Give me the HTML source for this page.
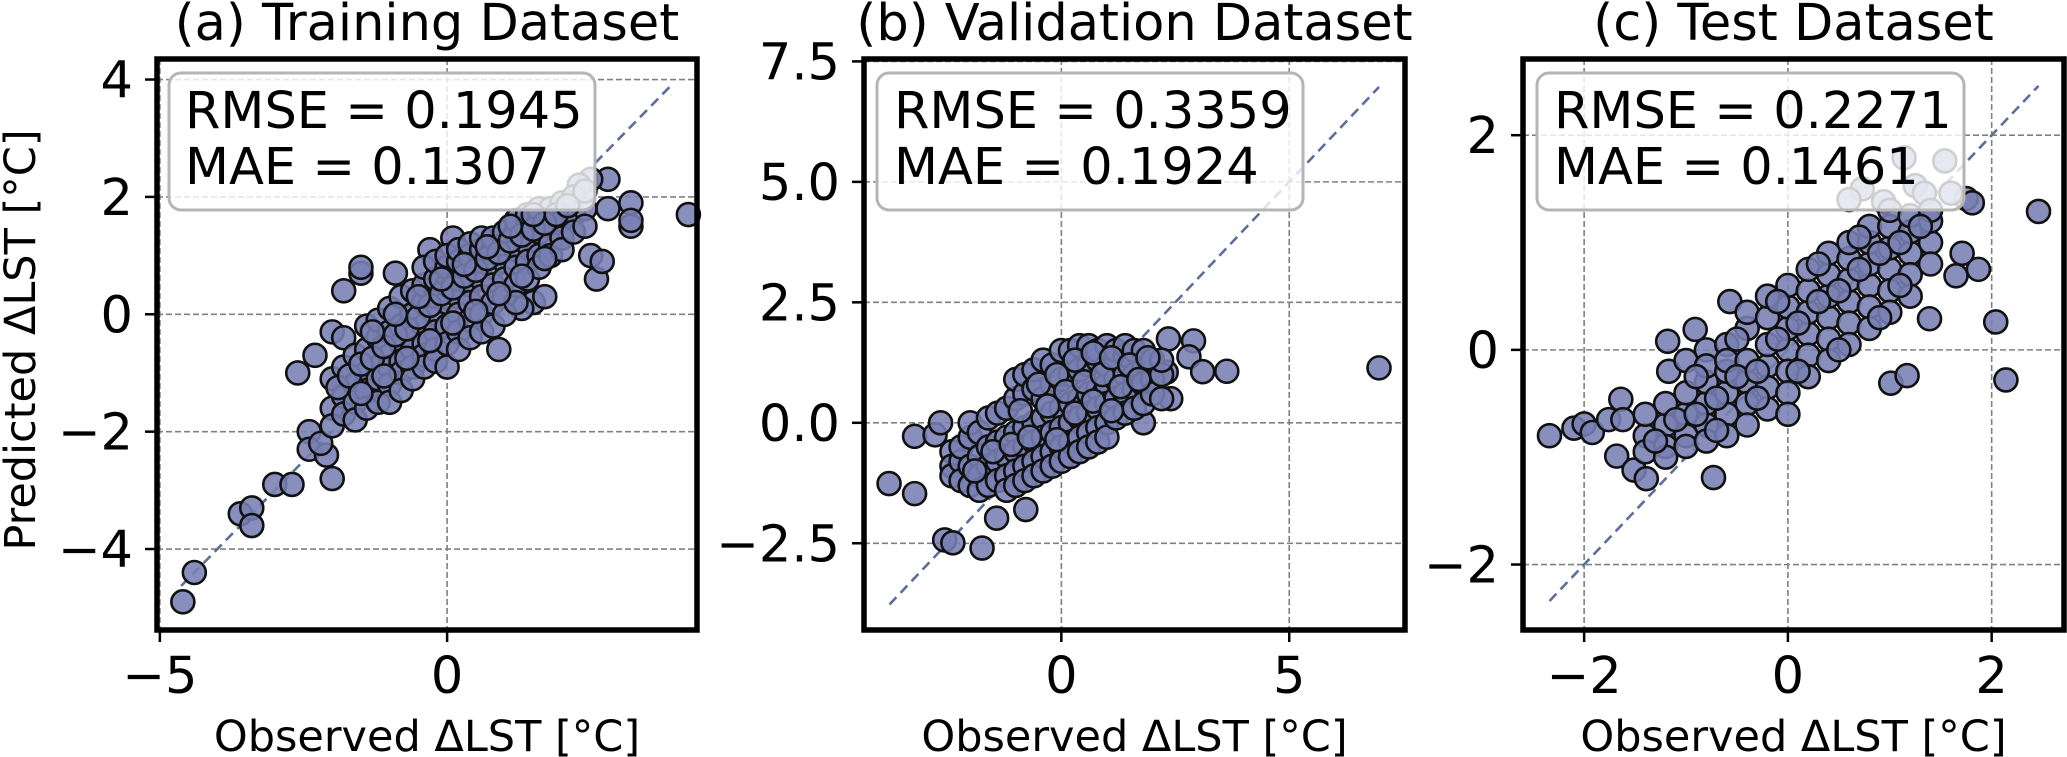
<!DOCTYPE html>
<html><head><meta charset="utf-8"><style>
html,body{margin:0;padding:0;background:#fff;}
svg{display:block;font-family:"DejaVu Sans","Liberation Sans",sans-serif;}
</style></head><body>
<svg id="chart" width="2067" height="757" viewBox="0 0 2067 757" xmlns="http://www.w3.org/2000/svg"></svg>
<script>
// ---------- data ----------
const panelTitles = ["(a) Training Dataset", "(b) Validation Dataset", "(c) Test Dataset"];
const rmseValues = ["0.1945", "0.3359", "0.2271"];
const maeValues = ["0.1307", "0.1924", "0.1461"];
const trainXTicks = [-5, 0];
const trainYTicks = [-4, -2, 0, 2, 4];
const valXTicks = [0, 5];
const valYTicks = [-2.5, 0, 2.5, 5, 7.5];
const testXTicks = [-2, 0, 2];
const testYTicks = [-2, 0, 2];
const trainDomainX = [-5.05, 4.35], trainDomainY = [-5.38, 4.35];
const valDomainX = [-4.33, 7.54], valDomainY = [-4.3, 7.55];
const testDomainX = [-2.6, 2.71], testDomainY = [-2.61, 2.71];
const trainLine = [-4.63, 3.9];
const valLine = [-3.77, 6.97];
const testLine = [-2.34, 2.46];

const trainPoints = [
[-4.6,-4.9],[-4.4,-4.4],[-3.6,-3.4],[-3.4,-3.3],[-3.4,-3.6],[-3.0,-2.9],[-2.7,-2.9],[-2.4,-2.0],[-2.4,-2.3],[-2.0,-2.8],[-2.1,-2.4],[-2.2,-2.2],
[-1.8,0.4],[-1.5,0.7],[-1.5,0.8],[-0.9,0.7],[-2.6,-1.0],[-2.3,-0.7],[-2.0,-0.3],[-0.3,1.1],[0.1,1.3],[3.2,1.9],[3.2,1.5],[3.2,1.6],[4.2,1.7],
[2.8,2.3],[2.5,2.3],[2.8,1.8],[2.5,1.0],[2.6,0.6],[2.7,0.9],[1.5,0.2],[1.3,0.1],[0.9,-0.6],[1.7,0.3],[2.3,2.2],[2.0,1.8],
[-2.0,-1.6],[-2.0,-1.1],[-2.0,-1.9],
[-1.8,-1.4],[-1.8,-0.9],[-1.8,-1.7],[-1.8,-0.4],
[-1.6,-1.2],[-1.6,-1.5],[-1.6,-0.7],[-1.6,-1.8],
[-1.4,-1.0],[-1.4,-1.3],[-1.4,-0.6],[-1.4,-1.6],[-1.4,-0.2],
[-1.2,-0.9],[-1.2,-1.1],[-1.2,-0.4],[-1.2,-1.5],[-1.2,-0.1],
[-1.0,-0.7],[-1.0,-0.9],[-1.0,-0.3],[-1.0,-1.2],[-1.0,0.1],[-1.0,-1.5],
[-0.8,-0.5],[-0.8,-0.8],[-0.8,-0.2],[-0.8,-1.0],[-0.8,0.3],[-0.8,-1.3],
[-0.6,-0.4],[-0.6,-0.6],[-0.6,0.0],[-0.6,-0.9],[-0.6,0.4],[-0.6,-1.1],
[-0.4,-0.2],[-0.4,-0.5],[-0.4,0.2],[-0.4,-0.7],[-0.4,0.5],[-0.4,-0.9],[-0.4,0.8],
[-0.2,0.0],[-0.2,-0.3],[-0.2,0.3],[-0.2,-0.6],[-0.2,0.6],[-0.2,-0.8],[-0.2,0.9],
[0.0,0.2],[0.0,-0.2],[0.0,0.5],[0.0,-0.5],[0.0,0.8],[0.0,-0.9],[0.0,1.0],
[0.2,0.3],[0.2,0.0],[0.2,0.6],[0.2,-0.3],[0.2,0.9],[0.2,-0.6],[0.2,1.1],
[0.4,0.5],[0.4,0.2],[0.4,0.8],[0.4,-0.1],[0.4,1.0],[0.4,-0.4],[0.4,1.2],
[0.6,0.6],[0.6,0.3],[0.6,0.9],[0.6,0.0],[0.6,1.1],[0.6,-0.3],[0.6,1.3],
[0.8,0.8],[0.8,0.5],[0.8,1.1],[0.8,0.2],[0.8,1.3],[0.8,-0.2],
[1.0,0.9],[1.0,0.6],[1.0,1.2],[1.0,0.3],[1.0,1.4],[1.0,0.0],
[1.2,1.1],[1.2,0.8],[1.2,1.4],[1.2,0.5],[1.2,1.6],[1.2,0.2],
[1.4,1.2],[1.4,0.9],[1.4,1.5],[1.4,0.6],[1.4,1.7],
[1.6,1.4],[1.6,1.0],[1.6,1.6],[1.6,0.8],[1.6,1.8],
[1.8,1.5],[1.8,1.2],[1.8,1.8],[1.8,1.0],
[2.0,1.6],[2.0,1.3],[2.0,1.9],[2.0,1.1],
[2.2,1.7],[2.2,1.4],[2.2,2.0],
[2.4,1.8],[2.4,1.5],[2.4,2.1],
[-1.9,-1.25],[-1.7,-1.05],[-1.5,-0.85],[-1.3,-0.75],[-1.1,-0.55],[-0.9,-0.35],[-0.7,-0.25],[-0.5,-0.05],[-0.3,0.15],[-0.1,0.35],
[0.1,0.45],[0.3,0.65],[0.5,0.75],[0.7,0.95],[0.9,1.05],[1.1,1.25],[1.3,1.35],[1.5,1.45],[1.7,1.55],[1.9,1.7],[2.1,1.85],
[-1.5,-1.35],[-1.1,-1.05],[-0.7,-0.75],[-0.3,-0.45],[0.1,-0.15],[0.5,0.05],[0.9,0.35],[1.3,0.65],[1.7,0.95],
[-1.3,-0.3],[-0.9,0.0],[-0.5,0.3],[-0.1,0.6],[0.3,0.85],[0.7,1.15],[1.1,1.5],[1.5,1.7]
];

const valPoints = [
[-3.78,-1.26],[-3.22,-1.47],[-3.22,-0.28],[-2.77,-0.25],[-2.65,0.0],[-2.56,-2.43],[-2.38,-2.49],[-1.74,-2.6],[-1.42,-1.98],[-0.78,-1.8],
[3.63,1.07],[6.97,1.14],[2.35,1.74],[2.9,1.7],[2.8,1.37],[3.1,1.06],[1.8,0.0],[2.4,0.5],[2.3,1.05],
[-2.4,-0.6],[-2.4,-0.9],[-2.4,-1.1],
[-2.2,-0.8],[-2.2,-1.2],[-2.2,-0.5],
[-2.0,-0.9],[-2.0,-1.3],[-2.0,-0.3],[-2.0,0.0],
[-1.8,-0.7],[-1.8,-1.1],[-1.8,-1.4],[-1.8,-0.2],
[-1.6,-0.5],[-1.6,-0.9],[-1.6,-1.3],[-1.6,0.1],
[-1.4,-0.4],[-1.4,-0.8],[-1.4,-1.2],[-1.4,0.2],
[-1.2,-0.3],[-1.2,-0.7],[-1.2,-1.1],[-1.2,0.3],[-1.2,-1.4],
[-1.0,-0.2],[-1.0,-0.6],[-1.0,-1.0],[-1.0,0.5],[-1.0,0.9],[-1.0,-1.3],
[-0.8,-0.1],[-0.8,-0.5],[-0.8,-0.9],[-0.8,0.6],[-0.8,1.0],[-0.8,-1.2],
[-0.6,0.0],[-0.6,-0.4],[-0.6,-0.8],[-0.6,0.7],[-0.6,1.1],[-0.6,-1.1],
[-0.4,0.1],[-0.4,-0.3],[-0.4,-0.7],[-0.4,0.5],[-0.4,1.3],[-0.4,-1.0],
[-0.2,0.2],[-0.2,-0.2],[-0.2,-0.6],[-0.2,0.8],[-0.2,1.2],[-0.2,-0.9],
[0.0,0.3],[0.0,-0.1],[0.0,-0.5],[0.0,0.9],[0.0,1.5],[0.0,-0.8],
[0.2,0.4],[0.2,0.0],[0.2,-0.4],[0.2,1.0],[0.2,1.5],[0.2,-0.7],
[0.4,0.5],[0.4,0.1],[0.4,-0.3],[0.4,1.1],[0.4,1.6],[0.4,-0.6],
[0.6,0.6],[0.6,0.2],[0.6,-0.2],[0.6,1.2],[0.6,1.6],[0.6,-0.5],
[0.8,0.7],[0.8,0.3],[0.8,-0.1],[0.8,1.3],[0.8,1.5],[0.8,-0.4],
[1.0,0.8],[1.0,0.4],[1.0,0.0],[1.0,1.2],[1.0,1.6],[1.0,-0.3],
[1.2,0.9],[1.2,0.5],[1.2,0.1],[1.2,1.3],[1.2,1.5],
[1.4,1.0],[1.4,0.6],[1.4,0.2],[1.4,1.4],[1.4,1.6],
[1.6,1.0],[1.6,0.7],[1.6,0.3],[1.6,1.5],
[1.8,1.1],[1.8,0.8],[1.8,0.4],[1.8,1.5],
[2.0,1.2],[2.0,0.9],[2.0,0.6],[2.0,1.3],
[2.2,1.0],[2.2,1.3],[2.2,0.5],
[-1.9,-1.0],[-1.5,-0.6],[-1.1,-0.45],[-0.9,0.25],[-0.7,-0.3],[-0.5,0.8],[-0.3,0.35],[-0.1,1.0],[0.1,0.65],[0.3,1.3],
[0.5,0.85],[0.7,1.45],[0.9,1.0],[1.1,1.35],[1.3,0.75],[1.5,1.2],[1.7,0.9],[1.9,1.35],[-0.1,-0.35],[0.3,0.2],[0.7,0.45],[1.1,0.25]
];

const testPoints = [
[-2.34,-0.8],[-2.1,-0.73],[-2.0,-0.69],[-1.92,-0.77],[-1.76,-0.65],[-1.64,-0.46],[-1.62,-0.65],[-1.68,-0.99],[-1.51,-1.12],[-1.39,-1.2],[-0.73,-1.19],
[-1.18,0.08],[-0.91,0.19],[-1.17,-0.2],[-0.57,0.45],[1.14,1.79],[1.54,1.76],[1.75,1.41],[1.81,1.37],[2.46,1.29],[2.04,0.26],[2.14,-0.28],
[1.01,-0.31],[1.17,-0.24],[1.87,0.75],[1.65,0.69],[1.71,0.9],[1.39,0.29],[0.73,1.5],[0.6,1.4],[0.94,1.38],[1.25,1.53],[1.34,1.46],[1.6,1.46],
[-1.4,-0.8],[-1.4,-0.95],[-1.4,-0.6],
[-1.2,-0.7],[-1.2,-0.9],[-1.2,-0.5],[-1.2,-1.0],
[-1.0,-0.6],[-1.0,-0.8],[-1.0,-0.4],[-1.0,-0.9],[-1.0,-0.1],
[-0.8,-0.5],[-0.8,-0.7],[-0.8,-0.3],[-0.8,-0.85],[-0.8,0.0],[-0.8,-0.15],
[-0.6,-0.4],[-0.6,-0.6],[-0.6,-0.2],[-0.6,-0.8],[-0.6,0.05],[-0.6,-0.1],
[-0.4,-0.3],[-0.4,-0.5],[-0.4,-0.1],[-0.4,-0.7],[-0.4,0.2],[-0.4,0.35],
[-0.2,-0.15],[-0.2,-0.35],[-0.2,0.05],[-0.2,-0.55],[-0.2,0.3],[-0.2,0.5],
[0.0,0.0],[0.0,-0.2],[0.0,0.2],[0.0,-0.4],[0.0,0.4],[0.0,0.6],[0.0,-0.6],
[0.2,0.15],[0.2,-0.05],[0.2,0.35],[0.2,-0.25],[0.2,0.55],[0.2,0.75],
[0.4,0.3],[0.4,0.1],[0.4,0.5],[0.4,-0.1],[0.4,0.7],[0.4,0.9],
[0.6,0.45],[0.6,0.25],[0.6,0.65],[0.6,0.05],[0.6,0.85],[0.6,1.0],
[0.8,0.6],[0.8,0.4],[0.8,0.8],[0.8,0.2],[0.8,1.0],[0.8,1.15],
[1.0,0.75],[1.0,0.55],[1.0,0.95],[1.0,0.35],[1.0,1.15],[1.0,1.3],
[1.2,0.9],[1.2,0.7],[1.2,1.1],[1.2,0.5],[1.2,1.25],
[1.4,1.0],[1.4,0.8],[1.4,1.2],[1.4,1.3],
[-1.3,-0.85],[-1.1,-0.65],[-0.9,-0.6],[-0.7,-0.45],[-0.5,-0.25],[-0.3,-0.2],[-0.1,0.1],[0.1,0.25],[0.3,0.45],[0.5,0.55],
[0.7,0.75],[0.9,0.9],[1.1,1.0],[1.3,1.15],[-0.9,-0.25],[-0.5,0.1],[-0.1,0.45],[0.3,0.8],[0.7,1.05],[1.1,0.6],
[-0.7,-0.75],[-0.3,-0.45],[0.1,-0.2],[0.5,0.0],[0.9,0.3]
];

// ---------- layout ----------
const NS = "http://www.w3.org/2000/svg";
const svg = document.getElementById("chart");
const frameTop = 59, frameBottom = 630;
const panels = [
  {left:157, right:697, dx:trainDomainX, dy:trainDomainY, xt:trainXTicks, yt:trainYTicks, pts:trainPoints, line:trainLine, fmt:v=>String(v), key:"train", textX:185, box:[169,595]},
  {left:864, right:1405, dx:valDomainX, dy:valDomainY, xt:valXTicks, yt:valYTicks, pts:valPoints, line:valLine, fmt:v=>v.toFixed(1), key:"validation", textX:894, box:[877,1303]},
  {left:1523, right:2064, dx:testDomainX, dy:testDomainY, xt:testXTicks, yt:testYTicks, pts:testPoints, line:testLine, fmt:v=>String(v), key:"test", textX:1554, box:[1537,1964]}
];
function mk(tag, attrs, parent){
  const e = document.createElementNS(NS, tag);
  for (const k in attrs) e.setAttribute(k, attrs[k]);
  (parent||svg).appendChild(e);
  return e;
}
function fmtNum(s){ return s.replace("-", "\u2212"); }

panels.forEach((p, i) => {
  const sx = v => p.left + (v - p.dx[0]) / (p.dx[1] - p.dx[0]) * (p.right - p.left);
  const sy = v => frameBottom - (v - p.dy[0]) / (p.dy[1] - p.dy[0]) * (frameBottom - frameTop);
  const g = mk("g", {});
  
  

  p.xt.forEach(t => {
    const l = mk("line", {x1:sx(t), x2:sx(t), y1:frameTop, y2:frameBottom, stroke:"#808080", "stroke-width":1.6, "stroke-dasharray":"6,3"}, g);
    
    
  });
  p.yt.forEach(t => {
    const l = mk("line", {x1:p.left, x2:p.right, y1:sy(t), y2:sy(t), stroke:"#808080", "stroke-width":1.6, "stroke-dasharray":"6,3"}, g);
    
    
  });

  const dl = mk("line", {x1:sx(p.line[0]), y1:sy(p.line[0]), x2:sx(p.line[1]), y2:sy(p.line[1]), stroke:"#5b6e9c", "stroke-width":2.6, "stroke-dasharray":"10,6"}, g);
  
  

  const pg = mk("g", {}, g);
  
  
  p.pts.forEach(pt => {
    const c = mk("circle", {cx:sx(pt[0]), cy:sy(pt[1]), r:11.5, fill:"#7880b3", "fill-opacity":0.88, stroke:"#111", "stroke-width":2.6}, pg);
    
    
  });

  const fr = mk("rect", {x:p.left, y:frameTop, width:p.right-p.left, height:frameBottom-frameTop, fill:"none", stroke:"#000", "stroke-width":5.5}, g);
  
  

  p.xt.forEach(t => {
    const tk = mk("line", {x1:sx(t), x2:sx(t), y1:frameBottom+2, y2:frameBottom+12, stroke:"#000", "stroke-width":2.5}, g);
    
    
    const tl = mk("text", {x:sx(t), y:693, "text-anchor":"middle", "font-size":51}, g);
    tl.textContent = fmtNum(String(t));
    
    
  });
  p.yt.forEach(t => {
    const tk = mk("line", {x1:p.left-2, x2:p.left-12, y1:sy(t), y2:sy(t), stroke:"#000", "stroke-width":2.5}, g);
    
    
    const tl = mk("text", {x:p.left-24, y:sy(t)+18, "text-anchor":"end", "font-size":51}, g);
    tl.textContent = fmtNum(p.fmt(t));
    
    
  });

  const bx = mk("rect", {x:p.box[0], y:73, width:p.box[1]-p.box[0], height:137, rx:12, fill:"#fff", "fill-opacity":0.8, stroke:"#b5b5b5", "stroke-width":3}, g);
  
  
  const t1 = mk("text", {x:p.textX, y:128, "font-size":51}, g);
  t1.textContent = "RMSE = " + rmseValues[i];
  
  
  const t2 = mk("text", {x:p.textX, y:184, "font-size":51}, g);
  t2.textContent = "MAE = " + maeValues[i];
  
  

  const cx = (p.left + p.right) / 2;
  const ti = mk("text", {x:cx, y:40, "text-anchor":"middle", "font-size":51}, g);
  ti.textContent = panelTitles[i];
  
  
  const xl = mk("text", {x:cx, y:751, "text-anchor":"middle", "font-size":43}, g);
  xl.textContent = "Observed \u0394LST [\u00B0C]";
  
  
});

const yl = mk("text", {x:0, y:0, "text-anchor":"middle", "font-size":43, transform:"translate(35,340) rotate(-90)"});
yl.textContent = "Predicted \u0394LST [\u00B0C]";


</script>
</body></html>
